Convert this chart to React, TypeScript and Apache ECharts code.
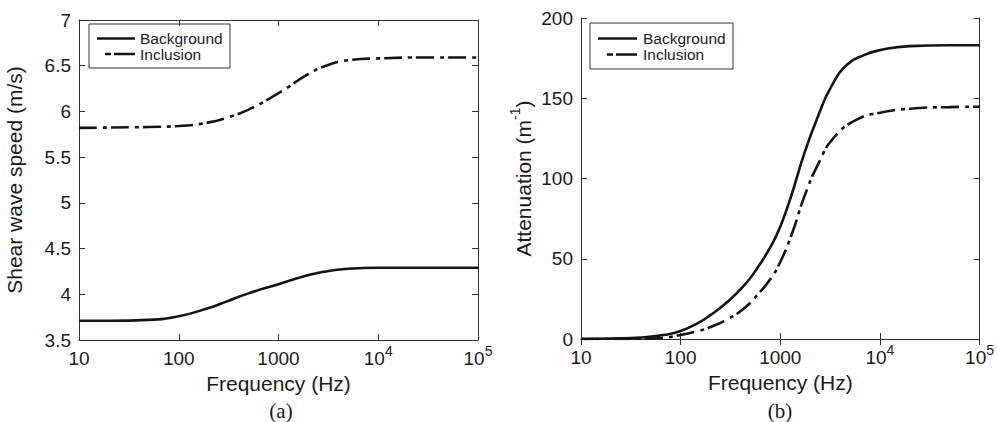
import React, { useEffect, useRef } from "react";
import * as echarts from "echarts";

// ---- data ----
const freqSpeedBg = [10, 20, 50, 100, 200, 300, 500, 1000, 2000, 3000, 5000, 10000, 30000, 100000];
const speedBg = [3.71, 3.71, 3.72, 3.76, 3.85, 3.92, 4.01, 4.11, 4.21, 4.25, 4.28, 4.29, 4.29, 4.29];

const freqSpeedInc = [10, 50, 100, 200, 300, 500, 1000, 2000, 3000, 5000, 10000, 30000, 100000];
const speedInc = [5.82, 5.83, 5.84, 5.88, 5.93, 6.02, 6.2, 6.41, 6.5, 6.56, 6.58, 6.59, 6.59];

const freqAttBg = [10, 20, 40, 70, 100, 150, 200, 300, 450, 600, 800, 1000, 1300, 1750, 2400, 3200, 4700, 7000, 10000, 20000, 50000, 100000];
const attBg = [0, 0.3, 0.9, 2.6, 5, 10, 15, 23.5, 34.5, 45, 57.5, 70, 90, 116, 139, 156.5, 171, 177, 180, 182.5, 183, 183];

const freqAttInc = [10, 30, 60, 100, 150, 200, 300, 450, 600, 800, 1000, 1300, 1750, 2400, 3500, 6000, 10000, 20000, 50000, 100000];
const attInc = [0, 0.1, 0.5, 2.5, 5, 7.5, 12.5, 20, 28, 37.5, 48, 65, 89, 109, 126, 137, 141, 143.5, 144.5, 144.7];

const xTickValues = [10, 100, 1000, 10000, 100000];
const xTickLabels = ["{b|10}", "{b|100}", "{b|1000}", "{b|10}{s|4}", "{b|10}{s|5}"];
const seriesNames = ["Background", "Inclusion"];
const panelLabels = ["(a)", "(b)"];

const FONT = "Liberation Sans, Arial, Helvetica, sans-serif";
const SERIF = "Liberation Serif, Times New Roman, serif";
const LINE = "#141414";
const AXIS = "#333";
const TXT = "#1a1a1a";
const DASHDOT = [18, 6, 4, 4];

const zip = (xs: number[], ys: number[]) => xs.map((x, i) => [x, ys[i]]);

export default function App() {
  const ref = useRef<HTMLDivElement>(null);
  useEffect(() => {
    document.body.style.margin = "0";
    const chart = echarts.init(ref.current!, undefined, { renderer: "svg" });

    const xLabelFmt = (v: number) => {
      const i = xTickValues.findIndex((t) => Math.abs(Math.log10(t) - Math.log10(v)) < 1e-6);
      return i >= 0 ? xTickLabels[i] : "";
    };
    const xRich = {
      b: { fontSize: 19, fontFamily: FONT, color: TXT, verticalAlign: "bottom", lineHeight: 24 },
      s: { fontSize: 14, fontFamily: FONT, color: TXT, verticalAlign: "top", lineHeight: 24 },
    };

    const mkX = (grid: number, main: boolean) => ({
      type: "log",
      logBase: 10,
      gridIndex: grid,
      min: 10,
      max: 100000,
      position: main ? "bottom" : "top",
      axisLine: { show: true, lineStyle: { color: AXIS, width: 1 } },
      axisTick: { show: true, inside: true, length: 6, lineStyle: { color: AXIS } },
      minorTick: { show: false },
      splitLine: { show: false },
      axisLabel: main
        ? { show: true, margin: 4, formatter: xLabelFmt, rich: xRich }
        : { show: false },
      name: main ? "Frequency (Hz)" : "",
      nameLocation: "middle",
      nameGap: grid === 0 ? 31 : 32,
      nameTextStyle: { fontSize: 21, fontFamily: FONT, color: TXT },
    });

    const mkY = (grid: number, main: boolean, min: number, max: number, interval: number, name: string, nameGap: number, rich?: any) => ({
      type: "value",
      gridIndex: grid,
      min,
      max,
      interval,
      position: main ? "left" : "right",
      axisLine: { show: true, lineStyle: { color: AXIS, width: 1 } },
      axisTick: { show: true, inside: true, length: 6, lineStyle: { color: AXIS } },
      splitLine: { show: false },
      axisLabel: main
        ? { show: true, margin: 8, fontSize: 19, fontFamily: FONT, color: TXT }
        : { show: false },
      name: main ? name : "",
      nameLocation: "middle",
      nameGap,
      nameTextStyle: { fontSize: 21, fontFamily: FONT, color: TXT, rich },
    });

    const nameRich = {
      n: { fontSize: 21, fontFamily: FONT, color: TXT, verticalAlign: "bottom", lineHeight: 26 },
      s: { fontSize: 14, fontFamily: FONT, color: TXT, verticalAlign: "top", lineHeight: 26 },
    };

    const mkSeries = (name: string, xi: number, yi: number, data: number[][], dashed: boolean) => ({
      type: "line",
      name,
      xAxisIndex: xi,
      yAxisIndex: yi,
      data,
      symbol: "none",
      showSymbol: false,
      smooth: 0.5,
      lineStyle: { color: LINE, width: 2.6, type: dashed ? DASHDOT : "solid", cap: "butt" },
      itemStyle: { color: LINE },
    });

    // legend drawn as graphic: box, sample lines, texts
    const mkLegend = (bx: number, by: number, bw: number, bh: number, lx0: number, lx1: number, dx0: number, tx: number, y1: number, y2: number) => ({
      type: "group",
      children: [
        { type: "rect", shape: { x: bx, y: by, width: bw, height: bh }, style: { fill: "#fff", stroke: AXIS, lineWidth: 1 } },
        { type: "line", shape: { x1: lx0, y1: y1, x2: lx1, y2: y1 }, style: { stroke: LINE, lineWidth: 2.5 } },
        { type: "line", shape: { x1: dx0, y1: y2, x2: lx1, y2: y2 }, style: { stroke: LINE, lineWidth: 2.5, lineDash: [6, 3, 22, 0] } },
        { type: "text", x: tx, y: y1, style: { text: seriesNames[0], fontSize: 15.5, fontFamily: FONT, fill: TXT, verticalAlign: "middle", align: "left" } },
        { type: "text", x: tx, y: y2, style: { text: seriesNames[1], fontSize: 15.5, fontFamily: FONT, fill: TXT, verticalAlign: "middle", align: "left" } },
      ],
    });

    chart.setOption({
      animation: false,
      backgroundColor: "#fff",
      grid: [
        { left: 79, top: 20, width: 399, height: 320 },
        { left: 581, top: 18, width: 402, height: 321 },
      ],
      xAxis: [mkX(0, true), mkX(0, false), mkX(1, true), mkX(1, false)],
      yAxis: [
        mkY(0, true, 3.5, 7, 0.5, "Shear wave speed (m/s)", 54),
        mkY(0, false, 3.5, 7, 0.5, "", 0),
        mkY(1, true, 0, 200, 50, "{n|Attenuation (m}{s|-1}{n|)}", 47, nameRich),
        mkY(1, false, 0, 200, 50, "", 0),
      ],
      series: [
        mkSeries(seriesNames[0], 0, 0, zip(freqSpeedBg, speedBg), false),
        mkSeries(seriesNames[1], 0, 0, zip(freqSpeedInc, speedInc), true),
        mkSeries(seriesNames[0], 2, 2, zip(freqAttBg, attBg), false),
        mkSeries(seriesNames[1], 2, 2, zip(freqAttInc, attInc), true),
      ],
      graphic: [
        mkLegend(89, 24, 141, 44, 97, 135, 105, 140, 38.5, 54),
        mkLegend(590, 23, 143, 46, 598, 637, 607, 643, 38.5, 54.5),
        {
          type: "text",
          x: 281,
          y: 411,
          style: { text: panelLabels[0], fontSize: 21, fontFamily: SERIF, fill: TXT, align: "center", verticalAlign: "middle" },
        },
        {
          type: "text",
          x: 780,
          y: 411,
          style: { text: panelLabels[1], fontSize: 21, fontFamily: SERIF, fill: TXT, align: "center", verticalAlign: "middle" },
        },
      ],
    });
    return () => chart.dispose();
  }, []);
  return <div ref={ref} style={{ width: 997, height: 422 }} />;
}
